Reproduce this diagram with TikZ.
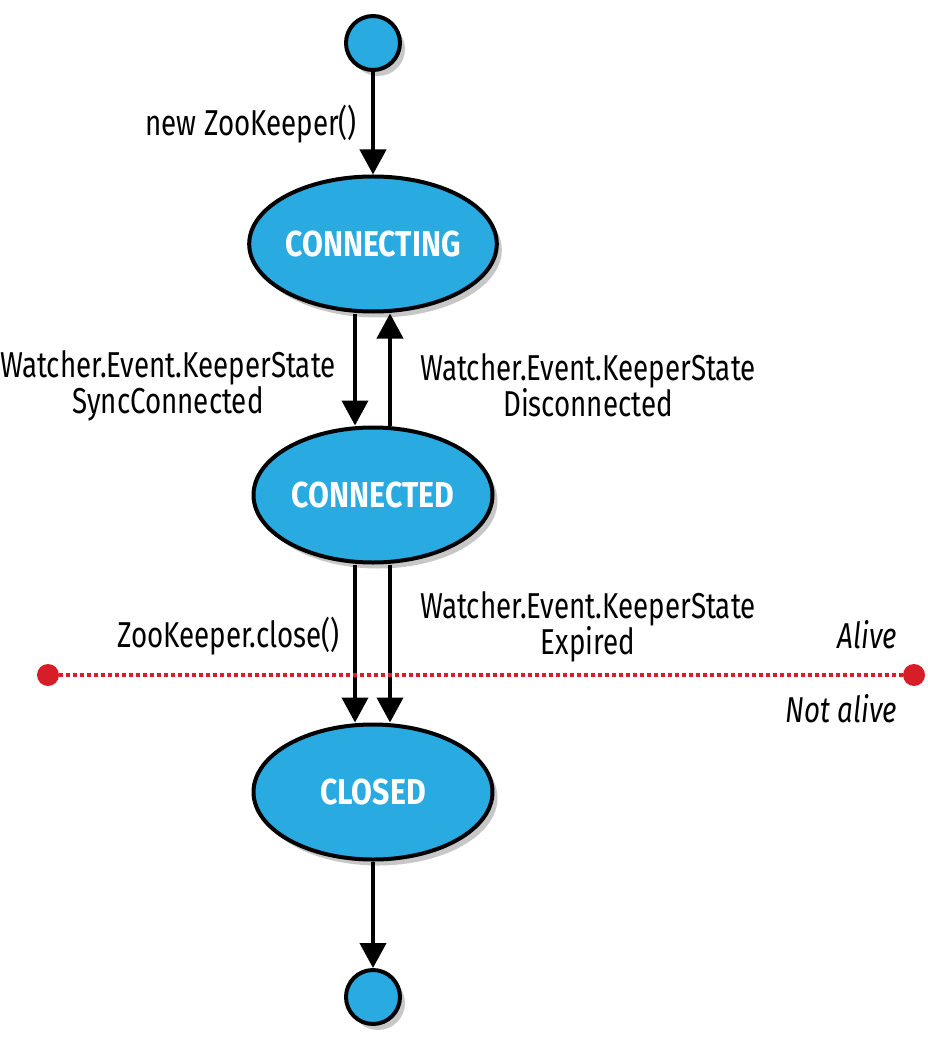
\documentclass[tikz,border=0pt]{standalone}
\usepackage{fontspec}
\setmainfont{Fira Sans}
\newfontfamily\condf[FakeStretch=0.77]{Fira Sans}
\newfontfamily\condbf[FakeStretch=0.84]{Fira Sans Bold}
\usetikzlibrary{arrows.meta,shapes.geometric,shadows}
\definecolor{stblue}{RGB}{41,170,225}
\definecolor{lnred}{RGB}{215,30,40}
\begin{document}
\begin{tikzpicture}[x=1pt,y=-1pt,
  shade/.style={drop shadow={shadow xshift=5pt,shadow yshift=-6pt,opacity=0.22,fill=black}},
  state/.style={ellipse,draw=black,line width=4pt,fill=stblue,minimum width=239pt,minimum height=135pt,inner sep=0pt,
    font=\condbf\fontsize{36}{36}\selectfont,text=white,shade},
  endpt/.style={circle,draw=black,line width=4pt,fill=stblue,minimum size=54pt,inner sep=0pt,shade},
  trans/.style={line width=4pt,-{Triangle[width=26pt,length=25pt]}},
  lbl/.style={font=\condf\fontsize{36}{36}\selectfont,align=center,inner sep=0pt},
  zone/.style={font=\condf\itshape\fontsize{36}{36}\selectfont,inner sep=0pt},
  reddot/.style={circle,fill=lnred,minimum size=22pt,inner sep=0pt}
]
\useasboundingbox (0,0) rectangle (927,1056);
\node[endpt] (start) at (373,43) {};
\node[state] (connecting) at (373,244) {CONNECTING};
\node[state] (connected) at (373,495) {CONNECTED};
\node[state] (closed) at (373,792) {CLOSED};
\node[endpt] (stop) at (373,997) {};

\draw[trans] (start) -- (connecting);
\draw[trans] ([xshift=-18pt]connecting.south) -- ([xshift=-18pt]connected.north);
\draw[trans] ([xshift=17pt]connected.north) -- ([xshift=17pt]connecting.south);
\draw[trans] ([xshift=-18pt]connected.south) -- ([xshift=-18pt]closed.north);
\draw[trans] ([xshift=17pt]connected.south) -- ([xshift=17pt]closed.north);
\draw[trans] (closed) -- (stop);

\node[lbl,anchor=east] (lnew) at (357,124) {new ZooKeeper()};
\node[lbl] (lsync) at (168,386) {Watcher.Event.KeeperState\\SyncConnected};
\node[lbl] (ldisc) at (588,385) {Watcher.Event.KeeperState\\Disconnected};
\node[lbl,anchor=east] (lclose) at (340,636) {ZooKeeper.close()};
\node[lbl] (lexp) at (588,627) {Watcher.Event.KeeperState\\Expired};

\node[reddot] (dl) at (48,675) {};
\node[reddot] (dr) at (914,675) {};
\draw[lnred,line width=4pt,dash pattern=on 4pt off 3pt] (dl) -- (dr);
\node[zone,anchor=east] (alive) at (897,635) {Alive};
\node[zone,anchor=east] (notalive) at (897,709) {Not alive};
\end{tikzpicture}
\end{document}
